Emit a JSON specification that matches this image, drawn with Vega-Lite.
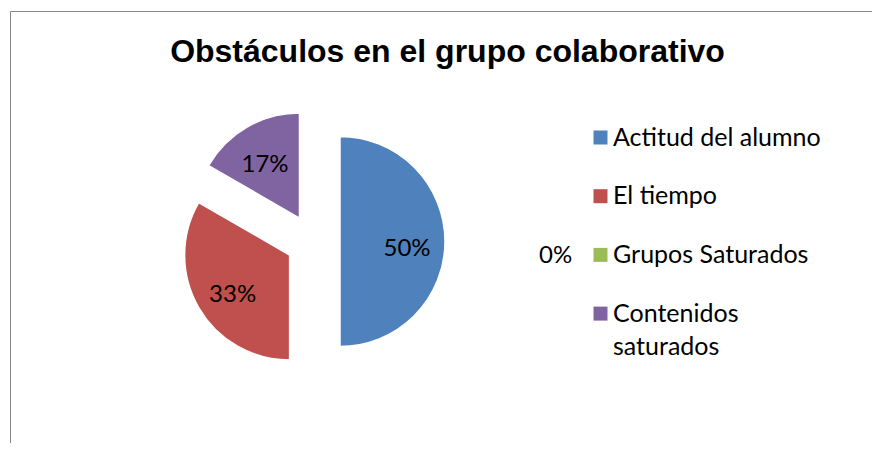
{
  "$schema": "https://vega.github.io/schema/vega-lite/v6.json",
  "usermeta": {"embedOptions": {"actions": false}},
  "autosize": {"type": "none"},
  "padding": {"left": 10, "top": 11, "right": 0, "bottom": 0},
  "width": 862,
  "height": 432,
  "background": "white",
  "view": {"stroke": "#868686", "strokeWidth": 1, "strokeDash": [862, 1294]},
  "config": {
    "view": {"stroke": "#868686", "strokeWidth": 1},
    "font": "Lato",
    "style": {"guide-label": {"lineHeight": 33}}
  },
  "title": {
    "text": "Obstáculos en el grupo colaborativo",
    "font": "Liberation Sans",
    "fontSize": 32,
    "fontWeight": "bold",
    "color": "#000000",
    "anchor": "middle",
    "frame": "group",
    "baseline": "alphabetic",
    "offset": -51,
    "dy": 32,
    "dx": 6.5
  },
  "data": {
    "values": [
      {"obstaculo": "Actitud del alumno", "n": 3, "pct": 0.5, "orden": 1},
      {"obstaculo": "El tiempo", "n": 2, "pct": 0.3333, "orden": 2},
      {"obstaculo": "Grupos Saturados", "n": 0, "pct": 0, "orden": 3},
      {"obstaculo": "Contenidos saturados", "n": 1, "pct": 0.1667, "orden": 4}
    ]
  },
  "encoding": {
    "theta": {"field": "n", "type": "quantitative", "stack": true},
    "order": {"field": "orden", "type": "quantitative"}
  },
  "layer": [
    {
      "mark": {"type": "arc", "radius": 105, "stroke": "white", "strokeWidth": 1.5, "xOffset": -101, "yOffset": 14.5},
      "encoding": {
        "color": {
          "field": "obstaculo", "type": "nominal",
          "scale": {"domain": ["Actitud del alumno", "El tiempo", "Grupos Saturados", "Contenidos saturados"], "range": ["#4F81BD", "#C0504D", "#9BBB59", "#8064A2"]},
          "legend": {"title": null, "orient": "none", "legendX": 578, "legendY": 114, "symbolType": "square", "symbolSize": 196, "symbolStrokeWidth": 0, "labelFont": "Lato", "labelFontSize": 25, "labelColor": "#000000", "labelOffset": 0, "rowPadding": 32.7, "labelLimit": 400, "padding": 0, "labelExpr": "datum.label === 'Contenidos saturados' ? ['Contenidos', 'saturados'] : datum.label"}
        },
        "opacity": {"condition": {"test": "datum.obstaculo === 'Actitud del alumno'", "value": 1}, "value": 0}
      }
    },
    {
      "mark": {"type": "arc", "radius": 105, "stroke": "white", "strokeWidth": 1.5, "xOffset": -151.4, "yOffset": 28},
      "encoding": {
        "color": {
          "field": "obstaculo", "type": "nominal",
          "scale": {"domain": ["Actitud del alumno", "El tiempo", "Grupos Saturados", "Contenidos saturados"], "range": ["#4F81BD", "#C0504D", "#9BBB59", "#8064A2"]},
          "legend": {"title": null, "orient": "none", "legendX": 578, "legendY": 114, "symbolType": "square", "symbolSize": 196, "symbolStrokeWidth": 0, "labelFont": "Lato", "labelFontSize": 25, "labelColor": "#000000", "labelOffset": 0, "rowPadding": 32.7, "labelLimit": 400, "padding": 0, "labelExpr": "datum.label === 'Contenidos saturados' ? ['Contenidos', 'saturados'] : datum.label"}
        },
        "opacity": {"condition": {"test": "datum.obstaculo === 'El tiempo'", "value": 1}, "value": 0}
      }
    },
    {
      "mark": {"type": "arc", "radius": 105, "stroke": "white", "strokeWidth": 1.5, "xOffset": -141.5, "yOffset": -8.9},
      "encoding": {
        "color": {
          "field": "obstaculo", "type": "nominal",
          "scale": {"domain": ["Actitud del alumno", "El tiempo", "Grupos Saturados", "Contenidos saturados"], "range": ["#4F81BD", "#C0504D", "#9BBB59", "#8064A2"]},
          "legend": {"title": null, "orient": "none", "legendX": 578, "legendY": 114, "symbolType": "square", "symbolSize": 196, "symbolStrokeWidth": 0, "labelFont": "Lato", "labelFontSize": 25, "labelColor": "#000000", "labelOffset": 0, "rowPadding": 32.7, "labelLimit": 400, "padding": 0, "labelExpr": "datum.label === 'Contenidos saturados' ? ['Contenidos', 'saturados'] : datum.label"}
        },
        "opacity": {"condition": {"test": "datum.obstaculo === 'Contenidos saturados'", "value": 1}, "value": 0}
      }
    },
    {
      "mark": {"type": "text", "radius": 67, "font": "Lato", "fontSize": 24, "fill": "#000000", "xOffset": -101, "yOffset": 21.5},
      "encoding": {
        "text": {"field": "pct", "type": "quantitative", "format": ".0%"},
        "opacity": {"condition": {"test": "datum.obstaculo === 'Actitud del alumno'", "value": 1}, "value": 0}
      }
    },
    {
      "mark": {"type": "text", "radius": 67, "font": "Lato", "fontSize": 24, "fill": "#000000", "xOffset": -150.4, "yOffset": 34},
      "encoding": {
        "text": {"field": "pct", "type": "quantitative", "format": ".0%"},
        "opacity": {"condition": {"test": "datum.obstaculo === 'El tiempo'", "value": 1}, "value": 0}
      }
    },
    {
      "mark": {"type": "text", "radius": 67, "font": "Lato", "fontSize": 24, "fill": "#000000", "xOffset": -142.5, "yOffset": -3.9},
      "encoding": {
        "text": {"field": "pct", "type": "quantitative", "format": ".0%"},
        "opacity": {"condition": {"test": "datum.obstaculo === 'Contenidos saturados'", "value": 1}, "value": 0}
      }
    },
    {
      "mark": {"type": "text", "radius": 243, "font": "Lato", "fontSize": 24, "fill": "#000000", "xOffset": -128, "yOffset": 14.5},
      "encoding": {
        "theta": {"value": 1.63},
        "text": {"field": "pct", "type": "quantitative", "format": ".0%"},
        "opacity": {"condition": {"test": "datum.obstaculo === 'Grupos Saturados'", "value": 1}, "value": 0}
      }
    }
  ]
}
